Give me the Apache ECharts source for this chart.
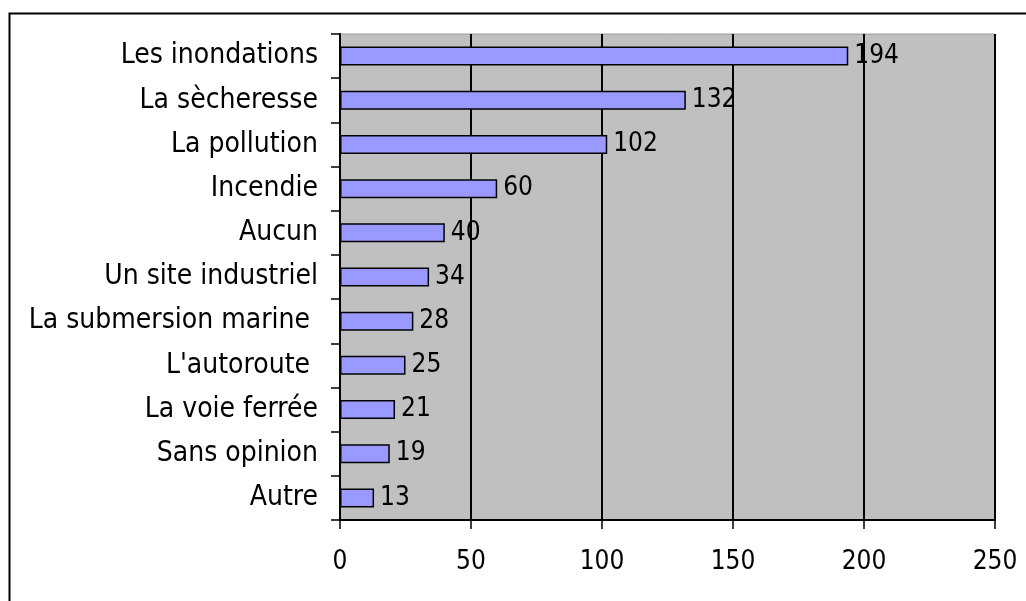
<!DOCTYPE html>
<html>
<head>
<meta charset="utf-8">
<script src="https://cdn.jsdelivr.net/npm/echarts@6/dist/echarts.min.js"></script>
<style>
html,body{margin:0;padding:0;background:#fff;}
#chart{width:1026px;height:601px;}
</style>
</head>
<body>
<div id="chart"></div>
<script>
const categories = ["Les inondations", "La sècheresse", "La pollution", "Incendie", "Aucun", "Un site industriel", "La submersion marine ", "L'autoroute ", "La voie ferrée", "Sans opinion", "Autre"];
const values = [194, 132, 102, 60, 40, 34, 28, 25, 21, 19, 13];
const xTicks = [0, 50, 100, 150, 200, 250];

const FONT = "'DejaVu Sans Condensed', 'DejaVu Sans', sans-serif";
const chart = echarts.init(document.getElementById('chart'));
chart.setOption({
  animation: false,
  backgroundColor: '#ffffff',
  graphic: [{
    type: 'rect',
    left: 7, top: 11,
    shape: { width: 1100, height: 700 },
    style: { fill: 'none', stroke: '#000', lineWidth: 2 },
    z: 100
  }],
  grid: {
    left: 340, right: 31, top: 34, bottom: 81,
    show: true,
    backgroundColor: '#c0c0c0',
    borderColor: '#9a9a9a',
    borderWidth: 1
  },
  xAxis: {
    type: 'value',
    min: xTicks[0],
    max: xTicks[xTicks.length - 1],
    interval: 50,
    axisLine: { show: true, lineStyle: { color: '#000', width: 2 } },
    axisTick: { show: true, length: 9, lineStyle: { color: '#000', width: 1.5 } },
    axisLabel: { color: '#000', fontFamily: FONT, fontSize: 26, margin: 29 },
    splitLine: { show: true, lineStyle: { color: '#000', width: 2 } }
  },
  yAxis: {
    type: 'category',
    data: categories,
    inverse: true,
    axisLine: { show: true, lineStyle: { color: '#000', width: 2 } },
    axisTick: { show: true, length: 9, alignWithLabel: false, lineStyle: { color: '#000', width: 1.5 } },
    axisLabel: { color: '#000', fontFamily: FONT, fontSize: 28, margin: 22 },
    splitLine: { show: false }
  },
  series: [{
    type: 'bar',
    data: values,
    barWidth: 19,
    itemStyle: { color: '#9999ff', borderColor: '#000', borderWidth: 1.5 },
    label: {
      show: true,
      position: 'right',
      distance: 6,
      color: '#000',
      fontFamily: FONT,
      fontSize: 26
    }
  }]
});
</script>
</body>
</html>
